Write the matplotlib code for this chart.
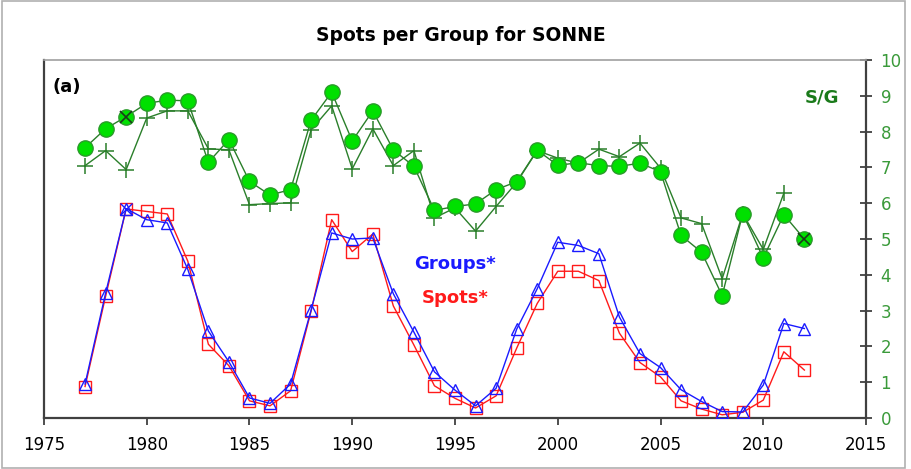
import matplotlib.pyplot as plt
from matplotlib.patches import Rectangle

# Datos (1977 - 2012)
anios = list(range(1977, 2013))

sg_circulos = [7.55, 8.08, 8.42, 8.79, 8.88, 8.86, 7.14, 7.78, 6.61, 6.23, 6.38, 8.32,
               9.10, 7.74, 8.58, 7.49, 7.03, 5.80, 5.91, 5.98, 6.38, 6.60, 7.48, 7.06,
               7.13, 7.05, 7.03, 7.12, 6.88, 5.10, 4.63, 3.42, 5.71, 4.47, 5.68, 5.00]

anios_cruces = list(range(1977, 2012))
sg_cruces = [7.05, 7.47, 6.94, 8.38, 8.58, 8.58, 7.52, 7.49, 5.96, 5.99, 6.01, 8.05,
             8.72, 6.96, 8.08, 7.05, 7.47, 5.59, 5.87, 5.22, 5.91, 6.58, 7.47, 7.26,
             7.12, 7.51, 7.30, 7.68, 6.98, 5.59, 5.43, 3.89, 5.71, 4.71, 6.28]

grupos = [0.95, 3.49, 5.85, 5.54, 5.45, 4.15, 2.43, 1.57, 0.56, 0.41, 0.95, 3.02,
          5.17, 5.00, 5.03, 3.47, 2.40, 1.29, 0.78, 0.34, 0.83, 2.48, 3.61, 4.91,
          4.82, 4.59, 2.82, 1.80, 1.41, 0.79, 0.46, 0.18, 0.17, 0.92, 2.64, 2.50]

manchas = [0.88, 3.40, 5.84, 5.77, 5.70, 4.38, 2.06, 1.46, 0.48, 0.34, 0.76, 2.99,
           5.54, 4.65, 5.14, 3.13, 2.04, 0.90, 0.55, 0.28, 0.62, 1.95, 3.20, 4.10,
           4.10, 3.84, 2.37, 1.55, 1.15, 0.48, 0.25, 0.09, 0.16, 0.50, 1.85, 1.34]

# anios marcados con una X dentro del simbolo
anios_x_sg = [1979, 2012]
anios_x_sp = [1979]

verde_oscuro = "#2a7f2a"

fig = plt.figure(figsize=(9.12, 4.69), dpi=100)
fig.patches.append(Rectangle((0.002, 0.002), 0.99, 0.996, transform=fig.transFigure,
                             fill=False, edgecolor="#b0b0b0", linewidth=1.2))
ax = fig.add_axes([0.0482, 0.1087, 0.9014, 0.7633])

# Serie S/G
ax.plot(anios_cruces, sg_cruces, color=verde_oscuro, linewidth=1, marker="+",
        markersize=11, markeredgewidth=1.1, zorder=3)
ax.plot(anios, sg_circulos, color=verde_oscuro, linewidth=1, marker="o",
        markersize=11, markerfacecolor="#00e000", markeredgecolor="#2a9a2a", zorder=4)
ax.plot(anios_x_sg, [sg_circulos[anios.index(a)] for a in anios_x_sg], linestyle="none",
        marker="x", markersize=9, color="#1a3a1a", markeredgewidth=1.2, zorder=5)

# Grupos y manchas
ax.plot(anios, manchas, color="#ff1a1a", linewidth=1, marker="s", markersize=9,
        markerfacecolor="none", markeredgecolor="#ff1a1a", markeredgewidth=1, zorder=3)
ax.plot(anios, grupos, color="#1a1aff", linewidth=1, marker="^", markersize=9,
        markerfacecolor="none", markeredgecolor="#1a1aff", markeredgewidth=1, zorder=3)
ax.plot(anios_x_sp, [grupos[anios.index(a)] for a in anios_x_sp], linestyle="none",
        marker="x", markersize=9, color="#1a1aff", markeredgewidth=1, zorder=5)

ax.set_xlim(1975, 2015)
ax.set_ylim(0, 10)
ax.set_xticks(range(1975, 2016, 5))
ax.set_yticks(range(0, 11))
ax.yaxis.tick_right()
ax.tick_params(axis="y", direction="inout", length=9, width=1.3, color="#404040",
               labelcolor="#3a9a3a", labelsize=12, pad=6)
ax.tick_params(axis="x", direction="out", length=5, width=1.3, color="#404040",
               labelsize=12, pad=8)

for lado in ["left", "bottom", "right"]:
    ax.spines[lado].set_color("#404040")
    ax.spines[lado].set_linewidth(1.6)
ax.spines["top"].set_color("#a0a0a0")
ax.spines["top"].set_linewidth(1.2)

ax.text(0.01, 0.925, "(a)", transform=ax.transAxes, fontsize=13, fontweight="bold",
        ha="left", va="center")
ax.text(0.947, 0.895, "S/G", transform=ax.transAxes, fontsize=13, fontweight="bold",
        color="#1a7a1a", ha="center", va="center")
ax.text(0.5, 0.43, "Groups*", transform=ax.transAxes, fontsize=13, fontweight="bold",
        color="#1a1aff", ha="center", va="center")
ax.text(0.5, 0.335, "Spots*", transform=ax.transAxes, fontsize=13, fontweight="bold",
        color="#ff1a1a", ha="center", va="center")

fig.text(0.505, 0.925, "Spots per Group for SONNE", fontsize=13.5, fontweight="bold",
         ha="center", va="center")

plt.savefig("out.png", dpi=100)
